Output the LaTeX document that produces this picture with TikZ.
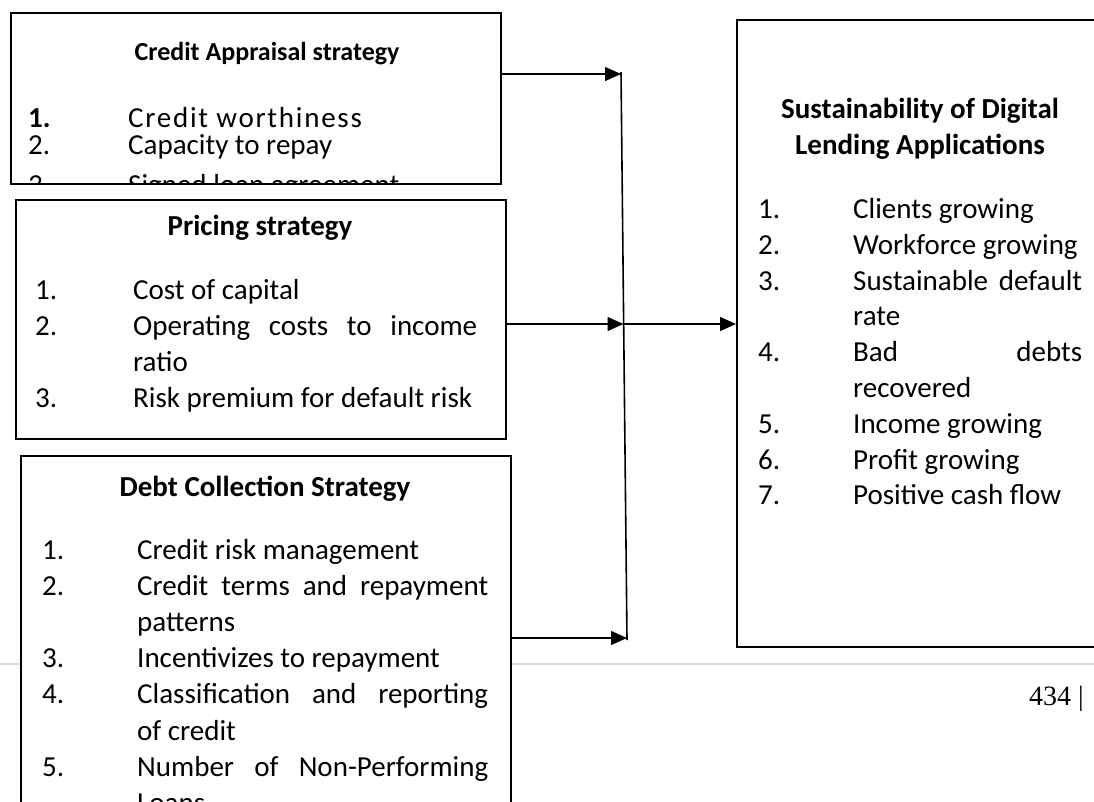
\documentclass[tikz,border=0pt]{standalone}
\usepackage{fontspec}
\setmainfont{Carlito}
\newfontfamily\pagefont{Liberation Serif}
\usetikzlibrary{arrows.meta}

\tikzset{
  box/.style={draw, line width=2.2pt, fill=white, anchor=north west, inner sep=0},
  link/.style={line width=1.3pt, -{Triangle[length=16pt,width=14pt]}},
  title/.style={font=\bfseries\fontsize{29}{35}\selectfont, inner sep=0, anchor=base},
  item/.style={font=\fontsize{29}{35}\selectfont, inner sep=0, anchor=base west}
}

\begin{document}
\begin{tikzpicture}[x=1pt,y=-1pt]
    \clip (0,0) rectangle (1094,801);
    \fill[white] (0,0) rectangle (1094,801);

    % page rule and number
    \draw[line width=1.5pt, color={rgb,255:red,217;green,217;blue,217}] (0,664) -- (1094,664);
    \node[font=\pagefont\fontsize{28}{30}\selectfont, anchor=base east, inner sep=0] (pg) at (1084,705) {434 |};

    % boxes
    \node[box, minimum width=490pt, minimum height=171pt] (ca) at (10,12) {};
    \node[box, minimum width=490pt, minimum height=239pt] (pr) at (15,199) {};
    \node[box, minimum width=490pt, minimum height=380pt] (dc) at (20,455) {};
    \node[box, minimum width=368pt, minimum height=627pt] (sd) at (736,19) {};

    % Credit appraisal
    \node[title, font=\bfseries\fontsize{26}{32}\selectfont] (ca-t) at (267,60) {Credit Appraisal strategy};
    \begin{scope}
        \clip (11,13) rectangle (499,182);
        \foreach \n/\t/\y [count=\i from 0] in {\textbf{1.}/{\addfontfeature{LetterSpace=6}Credit worthiness}/127,
                2./Capacity to repay/154, 3./Signed loan agreement/194}
        {
            \node[item] (ca-n\i) at (28,\y) {\n};
            \node[item] (ca-i\i) at (128,\y) {\t};
        }
    \end{scope}

    % Pricing
    \node[title] (pr-t) at (260,235) {Pricing strategy};
    \foreach \n/\t [count=\i from 0] in {1./Cost of capital,
            2./{\makebox[344pt][s]{Operating costs to income}}, /ratio,
            3./Risk premium for default risk}
    {
        \node[item] (pr-n\i) at (35,{299+36*\i}) {\n};
        \node[item] (pr-i\i) at (133,{299+36*\i}) {\t};
    }

    % Debt collection
    \node[title] (dc-t) at (265,496) {Debt Collection Strategy};
    \foreach \n/\t [count=\i from 0] in {1./Credit risk management,
            2./{\makebox[351pt][s]{Credit terms and repayment}}, /patterns,
            3./Incentivizes to repayment,
            4./{\makebox[351pt][s]{Classification and reporting}}, /of credit,
            5./{\makebox[351pt][s]{Number of Non-Performing}}, /Loans}
    {
        \node[item] (dc-n\i) at (42,{559+36.2*\i}) {\n};
        \node[item] (dc-i\i) at (137,{559+36.2*\i}) {\t};
    }

    % Sustainability
    \node[title] (sd-t1) at (920,118) {Sustainability of Digital};
    \node[title] (sd-t2) at (920,154) {Lending Applications};
    \foreach \n/\t [count=\i from 0] in {1./Clients growing, 2./Workforce growing,
            3./{\makebox[229pt][s]{Sustainable default}}, /rate,
            4./{\makebox[229pt][s]{Bad debts}}, /recovered,
            5./Income growing, 6./Profit growing, 7./Positive cash flow}
    {
        \node[item] (sd-n\i) at (758,{218.5+35.8*\i}) {\n};
        \node[item] (sd-i\i) at (853,{218.5+35.8*\i}) {\t};
    }

    % connectors
    \coordinate (jt) at (621,72);
    \coordinate (jb) at (627,640);
    \coordinate (j1) at (621,74);
    \coordinate (j2) at (623.5,324);
    \coordinate (j3) at (627,638);
    \draw[line width=1.6pt] (jt) -- (jb);
    \draw[link] (ca.east |- j1) -- (j1);
    \draw[link] (pr.east |- j2) -- (j2);
    \draw[link] (j2) -- (sd.west |- j2);
    \draw[link] (dc.east |- j3) -- (j3);
\end{tikzpicture}
\end{document}
